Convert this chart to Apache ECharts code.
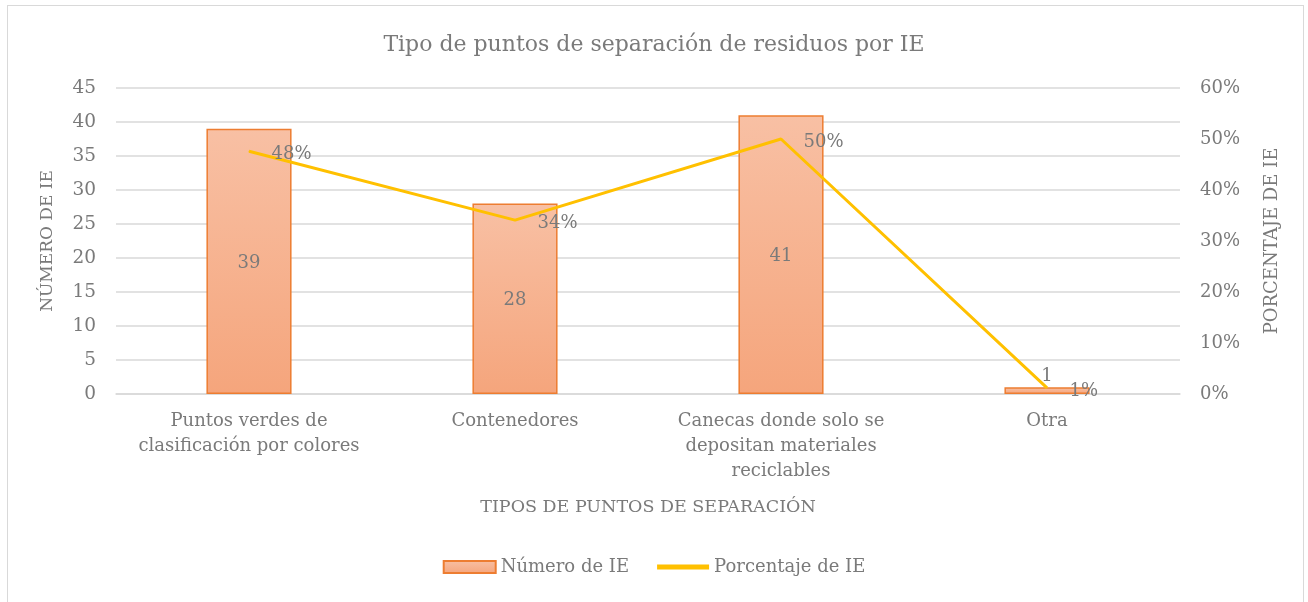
<!DOCTYPE html>
<html>
<head>
<meta charset="utf-8">
<script src="https://cdn.jsdelivr.net/npm/echarts@6/dist/echarts.min.js"></script>
<style>
  html, body { margin: 0; padding: 0; background: #fff; }
  #frame { position: absolute; left: 7px; top: 5px; width: 1297px; height: 620px; border: 1.5px solid #d9d9d9; box-sizing: border-box; }
  #chart { position: absolute; left: 0; top: 0; width: 1308px; height: 602px; }
</style>
</head>
<body>
<div id="frame"></div>
<div id="chart"></div>
<script>
// datos del gráfico
var categorias = ['Puntos verdes de\nclasificación por colores', 'Contenedores', 'Canecas donde solo se\ndepositan materiales\nreciclables', 'Otra'];
var numeroIE = [39, 28, 41, 1];
var porcentajeIE = [0.476, 0.341, 0.50, 0.012];
var ticksPorcentaje = [0, 0.1, 0.2, 0.3, 0.4, 0.5, 0.6];

(function () {
    var fuente = 'DejaVu Serif';
    var gris = '#7a7a7a';
    var myChart = echarts.init(document.getElementById('chart'));

    // la barra pequeña lleva la etiqueta encima
    var barras = numeroIE.map(function (v) {
        var item = { value: v };
        if (v < 3) {
            item.label = { position: 'top', distance: 4 };
        }
        return item;
    });

    var option = {
        animation: false,
        textStyle: { fontFamily: fuente },
        title: {
            text: 'Tipo de puntos de separación de residuos por IE',
            left: 'center',
            top: 29,
            textStyle: { fontFamily: fuente, fontSize: 22, fontWeight: 'normal', color: gris }
        },
        legend: {
            bottom: 21,
            left: 'center',
            itemWidth: 52,
            itemHeight: 12,
            itemGap: 28,
            textStyle: { fontFamily: fuente, fontSize: 18, color: gris },
            data: [
                { name: 'Número de IE', icon: 'rect' },
                { name: 'Porcentaje de IE', icon: 'path://M0,0 L10,0 L10,1 L0,1 Z' }
            ]
        },
        grid: {
            left: 116,
            right: 128,
            top: 88,
            bottom: 208
        },
        xAxis: {
            type: 'category',
            data: categorias,
            name: 'TIPOS DE PUNTOS DE SEPARACIÓN',
            nameLocation: 'middle',
            nameGap: 104,
            nameTextStyle: { fontFamily: fuente, fontSize: 17.5, color: gris },
            axisTick: { show: false },
            axisLine: { lineStyle: { color: '#d9d9d9', width: 1.5 } },
            axisLabel: { color: gris, fontSize: 18, lineHeight: 25, margin: 15, interval: 0 }
        },
        yAxis: [
            {
                type: 'value',
                min: 0,
                max: 45,
                interval: 5,
                name: 'NÚMERO DE IE',
                nameLocation: 'middle',
                nameGap: 60,
                nameTextStyle: { fontFamily: fuente, fontSize: 17, color: gris },
                axisLabel: { color: gris, fontSize: 18.5, margin: 20 },
                axisLine: { show: false },
                axisTick: { show: false },
                splitLine: { lineStyle: { color: '#d9d9d9', width: 1.5 } }
            },
            {
                type: 'value',
                min: 0,
                max: ticksPorcentaje[ticksPorcentaje.length - 1],
                interval: 0.1,
                name: 'PORCENTAJE DE IE',
                nameLocation: 'middle',
                nameGap: 83,
                nameRotate: 90,
                nameTextStyle: { fontFamily: fuente, fontSize: 18, color: gris },
                axisLabel: {
                    color: gris, fontSize: 18, margin: 20,
                    formatter: function (v) { return Math.round(v * 100) + '%'; }
                },
                axisLine: { show: false },
                axisTick: { show: false },
                splitLine: { show: false }
            }
        ],
        series: [
            {
                name: 'Número de IE',
                type: 'bar',
                barWidth: '32%',
                data: barras,
                itemStyle: {
                    color: new echarts.graphic.LinearGradient(0, 0, 0, 1, [
                        { offset: 0, color: '#f8c0a4' },
                        { offset: 1, color: '#f5a57c' }
                    ]),
                    borderColor: '#ed7d31',
                    borderWidth: 1.5
                },
                label: {
                    show: true,
                    position: 'inside',
                    color: gris,
                    fontSize: 18,
                    fontFamily: fuente,
                    offset: [0, 2]
                }
            },
            {
                name: 'Porcentaje de IE',
                type: 'line',
                yAxisIndex: 1,
                data: porcentajeIE,
                symbol: 'circle',
                symbolSize: 1,
                showSymbol: true,
                lineStyle: { color: '#ffc000', width: 3 },
                itemStyle: { color: '#ffc000' },
                label: {
                    show: true,
                    position: 'right',
                    distance: 22,
                    offset: [0, 3],
                    color: gris,
                    fontSize: 18,
                    fontFamily: fuente,
                    formatter: function (p) { return Math.round(p.value * 100) + '%'; }
                }
            }
        ]
    };
    myChart.setOption(option);

    window.addEventListener('resize', function () {
        myChart.resize();
    });
})();
</script>
</body>
</html>
